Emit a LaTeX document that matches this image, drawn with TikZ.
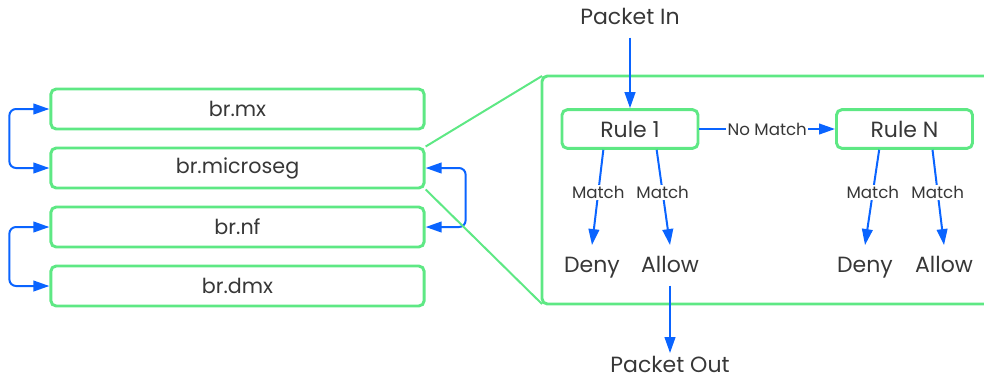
\documentclass[tikz,border=0pt]{standalone}
\usepackage{fontspec}
\setmainfont{Poppins}
\usetikzlibrary{positioning,arrows.meta}
\definecolor{boxgreen}{RGB}{94,232,132}
\definecolor{flowblue}{RGB}{10,100,255}
\definecolor{txtgray}{RGB}{55,55,55}

\begin{document}
\begin{tikzpicture}[x=0.75pt, y=-0.75pt, >={Triangle[length=12pt,width=8pt]},
  bridge/.style={rectangle, draw=boxgreen, line width=2.2pt, rounded corners=4pt, minimum width=280pt, minimum height=30pt, text=txtgray, font=\fontsize{15.5}{18}\selectfont},
  rule/.style={bridge, minimum width=102pt, minimum height=29pt, font=\fontsize{16.5}{19}\selectfont},
  verdict/.style={text=txtgray, font=\fontsize{16.5}{19}\selectfont, inner sep=2pt, text height=12pt, text depth=3pt},
  flow/.style={->, draw=flowblue, line width=1.5pt},
  tag/.style={midway, fill=white, text=txtgray, inner sep=1pt, font=\fontsize{12.5}{14}\selectfont},
  zoomline/.style={draw=boxgreen, line width=1.5pt}]
  \useasboundingbox (0,0) rectangle (984,380);

  % bridges
  \node[bridge] (mx) at (237.5,109) {br.mx};
  \node[bridge] (microseg) at (237.5,168) {br.microseg};
  \node[bridge] (nf) at (237.5,227) {br.nf};
  \node[bridge] (dmx) at (237.5,286) {br.dmx};

  \draw[flow, <->, rounded corners=5pt] (mx.west) -- ++(-40,0) |- (microseg.west);
  \draw[flow, <->, rounded corners=5pt] (nf.west) -- ++(-40,0) |- (dmx.west);
  \draw[flow, <->, rounded corners=5pt] (microseg.east) -- ++(40,0) |- (nf.east);

  % zoomed table
  \coordinate (zt) at (542,76);
  \coordinate (zb) at (542,304);
  \begin{scope}
    \clip (0,0) rectangle (984,380);
    \draw[zoomline, line width=2.2pt, rounded corners=4pt] (1000,76) -- (zt) -- (zb) -- (1000,304);
  \end{scope}
  \draw[zoomline] (microseg.north east) -- (zt);
  \draw[zoomline] (microseg.south east) -- (zb);

  \node[rule] (rulea) at (630,129) {Rule 1};
  \node[rule] (rulen) at (904.5,129) {Rule N};
  \node[verdict] (pin) at (630,18) {Packet In};
  \node[verdict] (pout) at (670,366) {Packet Out};
  \node[verdict] (denya) at (592,266) {Deny};
  \node[verdict] (allowa) at (670,266) {Allow};
  \node[verdict] (denyn) at (865,266) {Deny};
  \node[verdict] (allown) at (944,266) {Allow};

  \draw[flow] ([yshift=-5pt]pin.south) -- (rulea.north);
  \draw[flow] (rulea) -- (rulen) node[tag] {No Match};
  \draw[flow] ([xshift=-20pt]rulea.south) -- ([yshift=6pt]denya.north) node[tag, pos=0.45] {Match};
  \draw[flow] ([xshift=20pt]rulea.south) -- ([yshift=6pt]allowa.north) node[tag, pos=0.45] {Match};
  \draw[flow] ([xshift=-19pt]rulen.south) -- ([yshift=6pt]denyn.north) node[tag, pos=0.45] {Match};
  \draw[flow] ([xshift=21pt]rulen.south) -- ([yshift=6pt]allown.north) node[tag, pos=0.45] {Match};
  \draw[flow] ([yshift=-5pt]allowa.south) -- (pout.north);
\end{tikzpicture}
\end{document}
